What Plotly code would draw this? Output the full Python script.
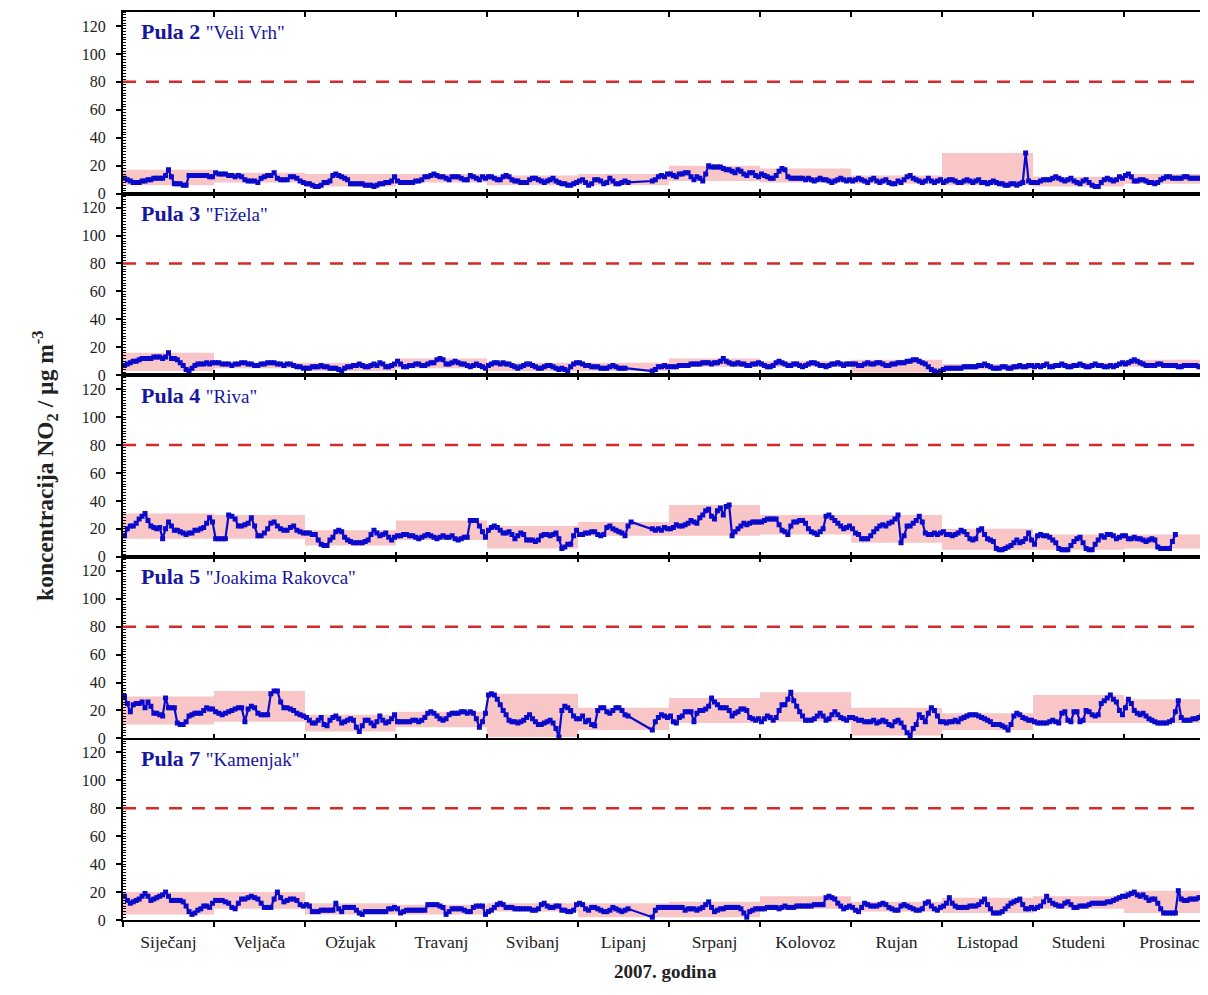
"""
NO2 dnevne koncentracije, Pula 2007 - pet mjernih postaja.
"""
import plotly.graph_objects as go
from plotly.subplots import make_subplots

MONTHS = ["Siječanj", "Veljača", "Ožujak", "Travanj", "Svibanj", "Lipanj",
          "Srpanj", "Kolovoz", "Rujan", "Listopad", "Studeni", "Prosinac"]

STATIONS = ["Pula 2", "Pula 3", "Pula 4", "Pula 5", "Pula 7"]
PLACES = ['"Veli Vrh"', '"Fižela"', '"Riva"', '"Joakima Rakovca"', '"Kamenjak"']

LIMIT = 80  # granicna vrijednost

# dnevne vrijednosti po mjesecima (None = nema mjerenja)
PULA2 = [
    [11, 10, 9, 8, 8, 8, 9, 9, 10, 10, 11, 11, 11, 11, 13, 17, 12, 7, 7, 7, 6, 6, 13, 13, 13, 13, 13, 13, 13, 12, 12],
    [15, 14, 14, 14, 13, 13, 12, 13, 12, 10, 9, 9, 9, 8, 11, 12, 13, 13, 15, 11, 10, 10, 10, 12, 12, 11, 9, 8],
    [7, 7, 6, 5, 5, 6, 8, 8, 9, 13, 14, 13, 12, 11, 10, 7, 7, 7, 7, 7, 6, 6, 6, 5, 6, 7, 7, 8, 8, 9, 12],
    [9, 8, 8, 8, 8, 8, 9, 9, 10, 12, 12, 13, 14, 13, 12, 12, 11, 10, 12, 12, 12, 11, 10, 10, 13, 12, 11, 10, 12, 11],
    [12, 12, 11, 10, 10, 12, 13, 12, 10, 9, 9, 8, 8, 8, 10, 11, 11, 10, 9, 8, 9, 10, 11, 9, 8, 7, 7, 6, 6, 7, 8],
    [9, 10, 8, 6, 7, 10, 10, 9, 7, 8, 11, 9, 7, 7, 8, 9, 8] + [None] * 7 + [9, 10, 12, 13, 12, 14],
    [14, 13, 12, 14, 14, 15, 15, 12, 10, 12, 11, 9, 14, 20, 19, 19, 19, 19, 18, 17, 17, 16, 15, 17, 16, 14, 13, 15, 15, 13, 12],
    [14, 13, 12, 11, 11, 13, 16, 18, 17, 12, 11, 11, 11, 11, 11, 10, 11, 10, 9, 10, 11, 10, 10, 9, 8, 9, 10, 11, 10, 9, 10],
    [9, 10, 11, 10, 9, 8, 10, 11, 9, 8, 9, 10, 8, 7, 7, 9, 8, 10, 12, 13, 11, 10, 9, 8, 9, 11, 9, 8, 9, 10],
    [8, 9, 10, 10, 9, 8, 8, 9, 10, 9, 8, 9, 10, 8, 8, 7, 8, 9, 8, 7, 7, 6, 6, 7, 7, 6, 7, 8, 29, 9, 8],
    [8, 8, 9, 10, 10, 10, 11, 12, 11, 10, 9, 10, 11, 9, 8, 7, 9, 10, 8, 6, 5, 5, 8, 10, 11, 10, 9, 10, 12, 11],
    [13, 14, 12, 9, 9, 10, 10, 9, 8, 8, 7, 8, 10, 11, 12, 12, 11, 11, 11, 11, 12, 12, 11, 11, 11, 11, 11, 12, 11, 11, 11],
]

PULA3 = [
    [7, 8, 9, 10, 10, 11, 12, 12, 12, 12, 13, 13, 13, 12, 13, 16, 12, 12, 11, 9, 7, 4, 3, 5, 7, 8, 8, 8, 9, 8, 9],
    [9, 9, 8, 8, 8, 7, 8, 8, 9, 9, 8, 8, 7, 7, 8, 8, 9, 9, 9, 8, 8, 7, 8, 8, 7, 6, 6, 5],
    [5, 5, 6, 6, 6, 7, 6, 6, 5, 5, 5, 4, 3, 5, 6, 6, 7, 7, 8, 7, 6, 6, 7, 8, 7, 9, 8, 6, 6, 7, 8],
    [10, 8, 6, 6, 7, 7, 8, 8, 7, 7, 8, 9, 9, 11, 12, 11, 8, 8, 9, 10, 9, 8, 8, 7, 6, 7, 8, 7, 6, 5],
    [7, 8, 9, 9, 8, 9, 8, 8, 7, 6, 5, 6, 7, 8, 8, 7, 6, 5, 5, 6, 7, 7, 6, 5, 4, 5, 4, 3, 6, 8, 9],
    [9, 8, 7, 7, 6, 6, 6, 5, 5, 5, 6, 7, 6, 5, 5, 5] + [None] * 8 + [3, 4, 6, 6, 7, 6],
    [6, 6, 6, 7, 7, 7, 7, 8, 8, 8, 8, 9, 9, 9, 8, 9, 9, 10, 12, 10, 9, 8, 8, 9, 8, 8, 7, 7, 8, 8, 9],
    [8, 7, 6, 6, 7, 9, 10, 9, 8, 7, 7, 8, 8, 7, 6, 7, 8, 9, 9, 8, 7, 7, 6, 7, 8, 8, 9, 8, 7, 8, 8],
    [8, 8, 7, 7, 8, 9, 8, 8, 9, 9, 8, 7, 7, 8, 8, 9, 9, 9, 10, 10, 11, 11, 10, 9, 8, 6, 4, 3, 2, 3],
    [4, 5, 5, 5, 5, 5, 5, 6, 6, 6, 6, 6, 7, 7, 8, 7, 6, 5, 5, 5, 6, 6, 5, 5, 6, 6, 7, 6, 6, 7, 7],
    [6, 7, 6, 7, 8, 6, 6, 7, 7, 8, 7, 6, 6, 7, 7, 8, 7, 6, 6, 7, 8, 7, 7, 6, 6, 7, 6, 7, 8, 9],
    [8, 9, 10, 11, 10, 9, 8, 7, 7, 7, 7, 8, 8, 7, 7, 7, 7, 7, 6, 6, 7, 7, 7, 7, 7, 6, 6, 6, 7, 8, 9],
]

PULA4 = [
    [15, 20, 22, 22, 24, 27, 29, 31, 26, 22, 21, 20, 21, 13, 20, 25, 22, 19, 19, 18, 17, 16, 17, 17, 19, 19, 20, 21, 24, 28, 25],
    [13, 13, 13, 13, 30, 29, 27, 22, 22, 23, 24, 28, 22, 15, 15, 17, 20, 24, 25, 22, 20, 19, 19, 21, 22, 19, 18, 17],
    [17, 17, 16, 16, 12, 9, 8, 8, 12, 14, 18, 19, 18, 14, 12, 11, 10, 10, 10, 10, 11, 12, 16, 19, 17, 15, 16, 17, 14, 12, 14],
    [15, 15, 16, 16, 15, 15, 14, 13, 14, 15, 16, 15, 14, 13, 14, 15, 14, 14, 15, 13, 12, 13, 14, 14, 26, 26, 26, 22, 18, 14],
    [19, 21, 22, 21, 19, 17, 17, 18, 16, 13, 15, 17, 16, 12, 12, 12, 11, 12, 15, 16, 16, 15, 16, 17, 13, 6, 7, 9, 9, 15, 19],
    [16, 16, 17, 17, 18, 18, 16, 15, 16, 21, 22, 20, 19, 18, 17, 15, 22, 25] + [None] * 6 + [20, 19, 20, 19, 21, 20],
    [20, 21, 23, 22, 22, 23, 24, 26, 25, 24, 28, 30, 33, 34, 29, 27, 33, 35, 30, 36, 37, 15, 18, 20, 22, 24, 23, 24, 25, 25, 25],
    [25, 26, 27, 27, 27, 27, 23, 19, 18, 16, 22, 25, 25, 26, 26, 24, 20, 18, 17, 16, 18, 20, 29, 30, 28, 26, 24, 22, 20, 21, 22],
    [20, 17, 16, 13, 13, 13, 15, 18, 20, 22, 23, 22, 24, 25, 27, 30, 10, 15, 22, 22, 24, 26, 29, 25, 17, 16, 16, 17, 16, 17],
    [18, 16, 16, 15, 16, 17, 19, 18, 16, 13, 12, 13, 19, 20, 16, 13, 12, 11, 6, 5, 5, 6, 7, 8, 10, 12, 10, 11, 13, 17, 12],
    [9, 15, 16, 15, 15, 14, 12, 10, 6, 5, 5, 5, 8, 11, 13, 14, 10, 6, 5, 5, 9, 12, 15, 14, 16, 16, 15, 13, 14, 15],
    [15, 13, 13, 14, 13, 13, 12, 11, 12, 13, 12, 7, 6, 6, 6, 6, 11, 16] + [None] * 13,
]

PULA5 = [
    [30, 25, 19, 24, 25, 25, 26, 22, 26, 23, 18, 18, 17, 16, 29, 22, 22, 22, 11, 10, 10, 12, 16, 17, 18, 18, 18, 20, 22, 21, 21],
    [19, 18, 17, 18, 19, 20, 21, 22, 22, 12, 21, 23, 22, 18, 17, 17, 17, 32, 34, 34, 26, 22, 22, 21, 20, 18, 17, 16],
    [15, 13, 11, 11, 13, 15, 10, 9, 13, 15, 16, 14, 11, 12, 13, 14, 13, 8, 5, 9, 13, 13, 11, 9, 12, 16, 13, 11, 12, 14, 17],
    [12, 12, 12, 12, 12, 13, 13, 12, 13, 15, 18, 19, 18, 16, 14, 13, 14, 17, 18, 18, 18, 19, 19, 18, 19, 18, 14, 8, 12, 18],
    [31, 32, 31, 28, 24, 20, 17, 13, 12, 12, 11, 12, 13, 15, 17, 14, 12, 10, 10, 11, 12, 13, 11, 7, 1, 20, 23, 22, 20, 16, 14],
    [14, 16, 12, 13, 10, 9, 20, 22, 22, 19, 18, 20, 22, 22, 20, 17, 16] + [None] * 7 + [6, 12, 15, 17, 16, 15],
    [16, 12, 11, 15, 16, 19, 19, 19, 12, 18, 20, 20, 21, 23, 29, 26, 24, 22, 22, 22, 20, 16, 18, 19, 21, 21, 20, 15, 14, 13, 14],
    [12, 14, 16, 15, 13, 15, 20, 24, 24, 28, 33, 27, 23, 19, 16, 13, 13, 13, 14, 16, 18, 16, 13, 14, 17, 19, 17, 15, 14, 13, 15],
    [15, 14, 13, 13, 12, 12, 12, 13, 11, 12, 13, 12, 10, 9, 12, 13, 11, 8, 4, 2, 7, 10, 17, 15, 12, 18, 22, 20, 16, 12],
    [12, 11, 12, 12, 13, 12, 14, 15, 16, 17, 17, 17, 16, 15, 14, 13, 12, 10, 10, 10, 9, 8, 6, 10, 16, 18, 17, 15, 14, 13, 13],
    [12, 11, 11, 11, 11, 12, 13, 12, 11, 18, 19, 13, 12, 19, 19, 12, 13, 20, 19, 17, 16, 17, 25, 27, 29, 31, 28, 26, 20, 17],
    [22, 28, 25, 20, 18, 17, 18, 16, 14, 13, 12, 11, 11, 11, 11, 12, 13, 19, 27, 15, 13, 13, 13, 14, 14, 15, 16, 18, 20, 22, 23],
]

PULA7 = [
    [17, 14, 12, 13, 14, 15, 17, 19, 17, 14, 15, 16, 17, 18, 20, 17, 14, 14, 14, 14, 13, 10, 6, 4, 5, 7, 8, 10, 10, 9, 12],
    [14, 14, 14, 13, 12, 9, 8, 12, 15, 15, 16, 17, 16, 15, 12, 9, 9, 9, 15, 20, 16, 13, 14, 15, 15, 14, 11, 10],
    [11, 10, 6, 6, 6, 7, 7, 7, 7, 7, 12, 8, 6, 9, 9, 9, 9, 7, 5, 4, 6, 6, 6, 6, 6, 6, 6, 6, 8, 8, 9],
    [8, 5, 6, 7, 7, 7, 7, 7, 7, 7, 11, 11, 11, 11, 10, 9, 4, 6, 8, 8, 8, 8, 7, 6, 6, 9, 10, 10, 10, 4],
    [6, 7, 9, 11, 12, 11, 9, 9, 9, 8, 8, 8, 8, 8, 8, 7, 7, 8, 11, 12, 10, 9, 9, 10, 10, 7, 7, 6, 6, 7, 11],
    [12, 11, 8, 7, 9, 9, 8, 7, 6, 6, 7, 9, 8, 7, 6, 7, 8] + [None] * 7 + [2, 7, 9, 9, 9, 9],
    [9, 9, 9, 9, 9, 7, 8, 8, 8, 7, 8, 9, 11, 13, 9, 6, 7, 8, 8, 9, 9, 9, 9, 9, 8, 5, 2, 6, 7, 8, 8],
    [8, 8, 9, 9, 9, 9, 8, 9, 10, 9, 9, 9, 10, 10, 10, 10, 10, 10, 11, 11, 11, 11, 16, 17, 16, 15, 12, 10, 8, 9, 10],
    [9, 7, 6, 9, 12, 11, 10, 10, 10, 11, 12, 11, 9, 8, 7, 7, 10, 11, 10, 9, 8, 7, 7, 8, 12, 13, 10, 8, 7, 9],
    [10, 12, 16, 12, 10, 9, 9, 9, 9, 10, 10, 10, 11, 13, 15, 11, 8, 5, 5, 5, 6, 8, 10, 12, 13, 14, 15, 11, 8, 8, 9],
    [8, 9, 10, 13, 17, 14, 12, 11, 10, 10, 12, 13, 11, 9, 9, 10, 10, 10, 11, 12, 12, 12, 12, 12, 13, 13, 14, 15, 16, 17],
    [17, 18, 19, 20, 18, 17, 18, 16, 14, 15, 15, 12, 8, 5, 5, 5, 5, 5, 21, 15, 14, 14, 15, 15, 15, 16, 16, 16, 17, 17, 18],
]

SERIES = [PULA2, PULA3, PULA4, PULA5, PULA7]

COLORS = {
    "line": "#0A0ACD",
    "band": "#F8C6C6",
    "limit": "#D42A2A",
    "title": "#1616A0",
    "axis": "black",
    "text": "#222222",
}
FONT = "Liberation Serif"

fig = make_subplots(rows=5, cols=1, shared_xaxes=True, vertical_spacing=0)

for row, data in enumerate(SERIES, start=1):
    xs, ys, lo, hi = [], [], [], []
    for m, vals in enumerate(data):
        n = len(vals)
        for i, v in enumerate(vals):
            xs.append(m + (i + 0.5) / n)
            ys.append(v)
        good = [v for v in vals if v is not None]
        lo.append(min(good))
        hi.append(max(good))

    # raspon min-max po mjesecu
    fig.add_trace(go.Bar(
        x=[m + 0.5 for m in range(12)],
        y=[h - l for h, l in zip(hi, lo)],
        base=lo,
        width=1,
        marker=dict(color=COLORS["band"], line_width=0),
        hoverinfo="skip",
    ), row=row, col=1)

    fig.add_trace(go.Scatter(
        x=xs,
        y=ys,
        mode="lines+markers",
        connectgaps=True,
        line=dict(color=COLORS["line"], width=2.2),
        marker=dict(symbol="square", size=5, color=COLORS["line"]),
        hovertemplate="%{y}<extra></extra>",
    ), row=row, col=1)

    fig.add_hline(y=LIMIT, line=dict(color=COLORS["limit"], width=2.5, dash="13px,10px"),
                  row=row, col=1)

    fig.add_annotation(
        text=f"<b>{STATIONS[row - 1]}</b> <span style='font-size:19px'>{PLACES[row - 1]}</span>",
        xref="x domain", yref="y domain", x=0.0147, y=0.89,
        xanchor="left", yanchor="middle", showarrow=False,
        font=dict(family=FONT, size=22, color=COLORS["title"]),
        row=row, col=1,
    )

fig.update_yaxes(
    range=[0, 130], tick0=0, dtick=20,
    ticks="outside", ticklen=5, tickwidth=2, tickcolor=COLORS["axis"],
    ticklabelstandoff=7,
    showline=True, linewidth=2, linecolor=COLORS["axis"],
    showgrid=False, zeroline=False,
    tickfont=dict(family=FONT, size=16, color=COLORS["text"]),
    minor=dict(dtick=2, ticks="inside", ticklen=3, tickwidth=1, tickcolor=COLORS["axis"]),
)

# granice mjeseci - kvacice s obje strane razdjelnih linija
fig.update_xaxes(
    range=[0, 12 * 1085 / 1092],
    tick0=0, dtick=1,
    ticks="inside", ticklen=5, tickwidth=2, tickcolor=COLORS["axis"],
    mirror="ticks",
    showline=True, linewidth=1.5, linecolor=COLORS["axis"],
    showgrid=False, zeroline=False,
)
fig.update_xaxes(
    tickmode="array",
    tickvals=[m + 0.5 for m in range(12)],
    ticktext=MONTHS,
    ticks="", ticklabelstandoff=5, mirror=False, linewidth=2,
    tickfont=dict(family=FONT, size=17.5, color=COLORS["text"]),
    minor=dict(tick0=0, dtick=1, ticks="outside", ticklen=5, tickwidth=2, tickcolor=COLORS["axis"]),
    row=5, col=1,
)

fig.add_annotation(
    text="<b>koncentracija NO<sub>2</sub> / µg m<sup>-3</sup></b>",
    xref="paper", yref="paper", x=-0.072, y=0.5, textangle=-90,
    xanchor="center", yanchor="middle", showarrow=False,
    font=dict(family=FONT, size=23.5, color=COLORS["text"]),
)
fig.add_annotation(
    text="<b>2007. godina</b>",
    xref="paper", yref="paper", x=0.5, y=-0.057,
    xanchor="center", yanchor="middle", showarrow=False,
    font=dict(family=FONT, size=19, color=COLORS["text"]),
)

# stranica ima 8px margine na body, pa je figura 8px manja
fig.update_layout(
    width=1200, height=987,
    margin=dict(l=115, r=0, t=4, b=75),
    paper_bgcolor="white", plot_bgcolor="white",
    showlegend=False, barmode="overlay",
    font=dict(family=FONT, color=COLORS["text"]),
)

fig.write_html("out.html")
